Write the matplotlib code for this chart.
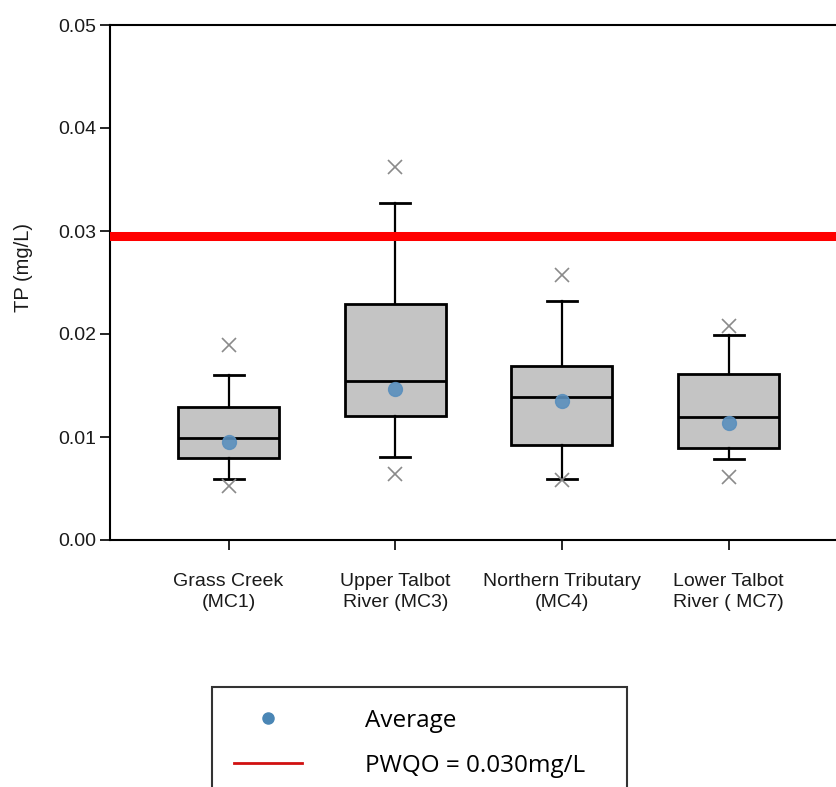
import numpy as np
import matplotlib
matplotlib.use('Agg')
import matplotlib.pyplot as plt
from matplotlib.lines import Line2D

# TP box plot data (mg/L)
sites = ['Grass Creek\n(MC1)', 'Upper Talbot\nRiver (MC3)', 'Northern Tributary\n(MC4)', 'Lower Talbot\nRiver ( MC7)']
whis_lo = [0.0059, 0.0081, 0.0059, 0.0079]
q1 = [0.0080, 0.0120, 0.0092, 0.0089]
med = [0.0099, 0.0154, 0.0139, 0.0119]
q3 = [0.0129, 0.0229, 0.0169, 0.0161]
whis_hi = [0.0160, 0.0327, 0.0232, 0.0199]
out_lo = [0.0052, 0.0064, 0.0058, 0.0061]
out_hi = [0.0189, 0.0362, 0.0257, 0.0208]
means = [0.0095, 0.0147, 0.0135, 0.0114]
pwqo = 0.0295   # drawn a little under the 0.03 tick in the original

plt.rcParams['font.family'] = ['Liberation Sans', 'DejaVu Sans']

fig = plt.figure(figsize=(8.36, 7.87), dpi=100)
# right side of the axes runs off the figure, like the cropped original
ax = fig.add_axes([110/836, 1-540/787, 737/836, 515/787])

stats = []
for i in range(len(sites)):
    stats.append({'whislo': whis_lo[i], 'q1': q1[i], 'med': med[i], 'q3': q3[i],
                  'whishi': whis_hi[i], 'fliers': [out_lo[i], out_hi[i]]})

pos = np.arange(1, len(sites) + 1)
ax.bxp(stats, positions=pos, widths=0.606, patch_artist=True, showfliers=True,
       boxprops=dict(facecolor='#c4c4c4', edgecolor='black', linewidth=2),
       medianprops=dict(color='black', linewidth=2),
       whiskerprops=dict(color='black', linewidth=1.6),
       capprops=dict(color='black', linewidth=2),
       capwidths=0.18,
       flierprops=dict(marker='x', markeredgecolor='#8a8a8a', markersize=10, markeredgewidth=1.2),
       zorder=2)

ax.plot(pos, means, 'o', color='#5a8fbd', markersize=10, zorder=4, alpha=0.9)
ax.axhline(pwqo, color='#ff0000', linewidth=6.5, zorder=3)

ax.set_xlim(0.289, 4.71)
ax.set_ylim(0, 0.05)
ax.set_yticks(np.arange(0, 0.051, 0.01))
ax.set_yticklabels(['%.2f' % v for v in np.arange(0, 0.051, 0.01)])
ax.set_xticks(pos)
ax.set_xticklabels(sites, linespacing=1.25)
ax.tick_params(axis='y', labelsize=14, length=7, width=1.2, direction='out', pad=3,
               labelcolor='#1a1a1a')
ax.tick_params(axis='x', labelsize=14, length=7, width=1.2, direction='out', pad=17,
               labelcolor='#1a1a1a')
for s in ['left', 'top', 'bottom', 'right']:
    ax.spines[s].set_linewidth(1.5)

ax.set_ylabel('TP (mg/L)', fontsize=14.5, color='#1a1a1a')
ax.yaxis.set_label_coords(-0.105, 0.53)

# legend under the chart, its lower edge cut off by the figure
handles = [Line2D([], [], marker='o', linestyle='none', color='#4a86b5', markersize=8),
           Line2D([], [], color='#d01010', linewidth=2)]
leg = fig.legend(handles, ['Average', 'PWQO = 0.030mg/L'],
                 loc='upper left', bbox_to_anchor=(212/836, 1-687/787-0.01, 415/836, 0.01),
                 mode='expand', borderaxespad=0, frameon=True, fancybox=False,
                 edgecolor='black', handlelength=2.8, handletextpad=2.6,
                 labelspacing=0.85, borderpad=0.9,
                 prop={'family': 'Open Sans', 'size': 17.5})
leg.get_frame().set_linewidth(1.5)

fig.savefig('out.png', dpi=100)
